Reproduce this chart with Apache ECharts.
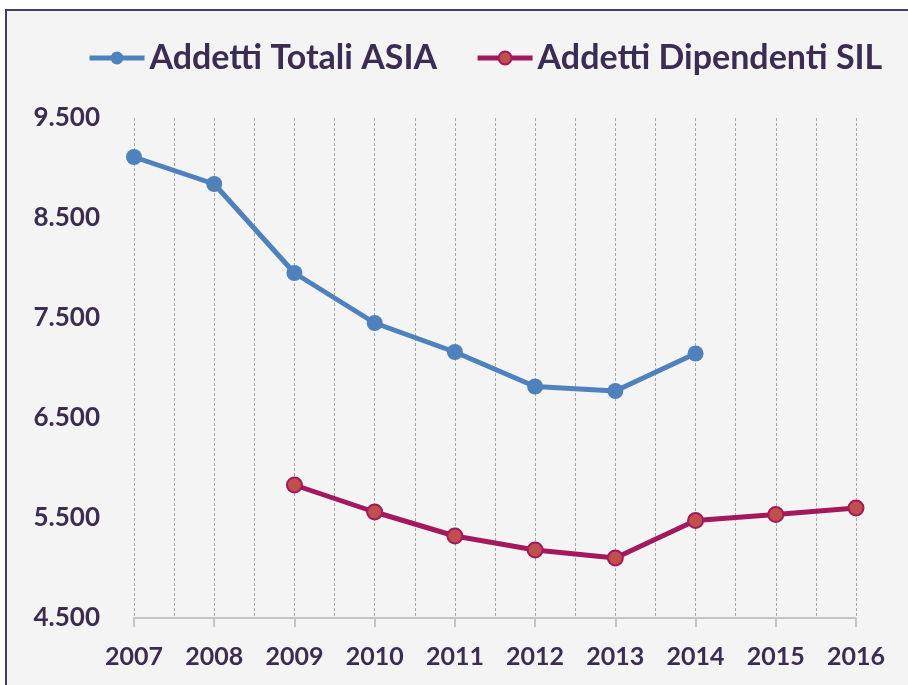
<!DOCTYPE html>
<html>
<head>
<meta charset="utf-8">
<script src="https://cdn.jsdelivr.net/npm/echarts@6/dist/echarts.min.js"></script>
<style>
  html, body { margin: 0; padding: 0; background: #ffffff; }
  #chart { width: 908px; height: 685px; }
</style>
</head>
<body>
<div id="chart"></div>
<script>
const years = [2007, 2008, 2009, 2010, 2011, 2012, 2013, 2014, 2015, 2016]
const asiaName = 'Addetti Totali ASIA'
const silName = 'Addetti Dipendenti SIL'
const asiaValues = [9110, 8840, 7950, 7450, 7160, 6815, 6770, 7145, null, null]
const silValues = [null, null, 5830, 5560, 5320, 5180, 5100, 5475, 5535, 5600]
const yTicks = [4500, 5500, 6500, 7500, 8500, 9500]

const textColor = '#3d2c52'
const pairs = (vals) => years.map((y, i) => [y, vals[i]]).filter(p => p[1] != null)

const chart = echarts.init(document.getElementById('chart'))
chart.setOption({
  backgroundColor: '#ffffff',
  textStyle: { fontFamily: 'Lato', fontWeight: 'bold', color: textColor },
  graphic: [{
    type: 'rect',
    z: -10,
    shape: { x: 6, y: 10, width: 1000, height: 1000 },
    style: { fill: '#f4f4f4', stroke: '#4b3b60', lineWidth: 2 }
  }],
  legend: {
    top: 36,
    left: 82,
    itemWidth: 55,
    itemHeight: 16,
    itemGap: 38,
    lineStyle: { width: 5 },
    textStyle: { fontSize: 34, fontWeight: 'bold', color: textColor, fontFamily: 'Lato' },
    data: [asiaName, silName]
  },
  grid: { left: 134, right: 52, top: 118, bottom: 67 },
  xAxis: {
    type: 'value',
    min: years[0],
    max: years[years.length - 1],
    interval: 1,
    axisLine: { show: true, lineStyle: { color: '#c4c4c4', width: 2 } },
    axisTick: { show: true, length: 9, lineStyle: { color: '#c4c4c4', width: 2 } },
    minorTick: { show: false, splitNumber: 2 },
    splitLine: { show: true, lineStyle: { color: '#a8a8a8', type: [3, 2], width: 1 } },
    minorSplitLine: { show: true, lineStyle: { color: '#a8a8a8', type: [3, 2], width: 1 } },
    axisLabel: {
      margin: 26,
      fontSize: 25,
      fontWeight: 'bold',
      color: textColor,
      formatter: (v) => String(v)
    }
  },
  yAxis: {
    type: 'value',
    min: yTicks[0],
    max: yTicks[yTicks.length - 1],
    interval: 1000,
    axisLine: { show: false },
    axisTick: { show: false },
    splitLine: { show: false },
    axisLabel: {
      margin: 34,
      fontSize: 26,
      fontWeight: 'bold',
      color: textColor,
      formatter: (v) => echarts.format.addCommas(v).replace(',', '.')
    }
  },
  series: [
    {
      name: asiaName,
      type: 'line',
      data: pairs(asiaValues),
      symbol: 'circle',
      symbolSize: 16,
      itemStyle: { color: '#4f81bd' },
      lineStyle: { color: '#4f81bd', width: 5 }
    },
    {
      name: silName,
      type: 'line',
      data: pairs(silValues),
      symbol: 'circle',
      symbolSize: 15,
      itemStyle: { color: '#c0504d', borderColor: '#a3195b', borderWidth: 2 },
      lineStyle: { color: '#a3195b', width: 5 }
    }
  ]
})
</script>
</body>
</html>
